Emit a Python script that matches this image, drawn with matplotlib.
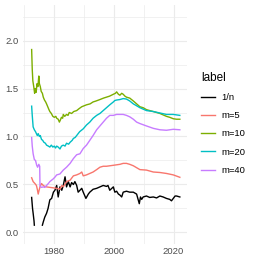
import numpy as np
import matplotlib
matplotlib.use("Agg")
import matplotlib.pyplot as plt
from matplotlib.ticker import MultipleLocator

plt.rcParams['font.family'] = ['Liberation Sans', 'DejaVu Sans']

# ---- data ----
labels = ["1/n", "m=5", "m=10", "m=20", "m=40"]
colors = ["#000000", "#F8766D", "#7CAE00", "#00BFC4", "#C77CFF"]

x_inv = [1972.4, 1972.7, 1972.9, 1973.2, 1973.3, 1974.5, 1976.0, 1976.3, 1976.8, 1977.4,
         1977.9, 1978.5, 1979.1, 1979.7, 1980.2, 1980.8, 1981.3, 1981.9, 1982.5, 1983.0,
         1983.6, 1984.1, 1984.7, 1985.3, 1985.8, 1986.4, 1986.9, 1987.5, 1988.0, 1988.6,
         1989.2, 1989.7, 1990.6, 1991.4, 1991.9, 1993.0, 1994.2, 1995.3, 1996.4, 1997.5,
         1998.0, 1998.6, 1999.8, 2000.3, 2000.9, 2001.5, 2002.0, 2002.6, 2003.1, 2004.2,
         2005.3, 2006.5, 2007.6, 2008.5, 2008.9, 2009.3, 2009.8, 2010.9, 2012.0, 2013.2,
         2014.3, 2015.4, 2016.5, 2017.6, 2018.7, 2019.3, 2019.9, 2020.5, 2021.0, 2022.1]
y_inv = [0.365, 0.25, 0.20, 0.12, 0.076, np.nan, 0.076, 0.11, 0.16, 0.20,
         0.25, 0.34, 0.355, 0.42, 0.44, 0.49, 0.37, 0.475, 0.44, 0.49,
         0.58, 0.475, 0.53, 0.475, 0.52, 0.50, 0.53, 0.49, 0.42, 0.44,
         0.46, 0.42, 0.355, 0.40, 0.42, 0.45, 0.46, 0.475, 0.49, 0.48,
         0.49, 0.44, 0.475, 0.42, 0.43, 0.40, 0.39, 0.37, 0.42, 0.43,
         0.42, 0.42, 0.40, 0.30, 0.37, 0.345, 0.37, 0.38, 0.365, 0.37,
         0.36, 0.38, 0.37, 0.355, 0.345, 0.33, 0.355, 0.38, 0.38, 0.37]

x_m5 = [1972.4, 1972.9, 1973.5, 1974.0, 1974.3, 1974.6, 1974.9, 1975.2, 1975.7, 1976.3,
        1976.8, 1977.4, 1978.5, 1979.7, 1980.8, 1981.9, 1982.5, 1983.0, 1984.1, 1985.3,
        1986.4, 1987.5, 1988.6, 1989.2, 1989.7, 1990.8, 1991.9, 1993.0, 1994.2, 1995.3,
        1996.4, 1997.5, 1999.8, 2002.0, 2003.1, 2004.2, 2005.3, 2006.5, 2007.6, 2008.7,
        2010.9, 2013.2, 2015.4, 2017.6, 2019.9, 2022.1]
y_m5 = [0.57, 0.53, 0.51, 0.49, 0.45, 0.40, 0.44, 0.475, 0.51, 0.49,
        0.48, 0.475, 0.47, 0.465, 0.46, 0.45, 0.49, 0.475, 0.53, 0.545,
        0.59, 0.60, 0.615, 0.63, 0.59, 0.60, 0.615, 0.63, 0.655, 0.68,
        0.69, 0.69, 0.70, 0.71, 0.72, 0.72, 0.71, 0.695, 0.675, 0.655,
        0.65, 0.63, 0.625, 0.615, 0.60, 0.575]

x_m10 = [1972.4, 1972.6, 1972.8, 1973.1, 1973.4, 1973.6, 1973.9, 1974.2, 1974.5, 1974.8,
         1975.0, 1975.3, 1975.6, 1976.0, 1976.3, 1976.7, 1977.1, 1977.4, 1977.8, 1978.2,
         1978.5, 1979.0, 1979.5, 1980.0, 1980.5, 1980.8, 1981.3, 1981.7, 1982.0, 1982.4,
         1982.8, 1983.0, 1983.5, 1984.1, 1984.6, 1985.0, 1985.8, 1986.5, 1987.5, 1988.3,
         1989.2, 1990.0, 1990.8, 1992.0, 1993.0, 1994.0, 1995.3, 1996.5, 1997.5, 1998.5,
         1999.8, 2000.5, 2000.9, 2001.5, 2002.0, 2002.6, 2003.1, 2003.7, 2004.2, 2005.3,
         2006.5, 2007.6, 2008.7, 2009.8, 2010.9, 2012.0, 2013.2, 2014.3, 2015.4, 2016.5,
         2017.6, 2018.7, 2019.9, 2021.0, 2022.1]
y_m10 = [1.906, 1.70, 1.58, 1.52, 1.45, 1.50, 1.46, 1.55, 1.52, 1.63,
         1.55, 1.52, 1.47, 1.45, 1.41, 1.38, 1.36, 1.34, 1.31, 1.28,
         1.26, 1.24, 1.21, 1.20, 1.21, 1.19, 1.18, 1.15, 1.17, 1.20,
         1.19, 1.23, 1.21, 1.23, 1.22, 1.25, 1.24, 1.26, 1.27, 1.29,
         1.31, 1.32, 1.33, 1.34, 1.36, 1.37, 1.385, 1.40, 1.41, 1.42,
         1.44, 1.45, 1.465, 1.44, 1.43, 1.45, 1.44, 1.42, 1.41, 1.40,
         1.37, 1.34, 1.31, 1.30, 1.28, 1.27, 1.26, 1.25, 1.24, 1.225,
         1.21, 1.20, 1.185, 1.18, 1.18]

x_m20 = [1972.4, 1972.6, 1972.9, 1973.3, 1973.7, 1974.0, 1974.3, 1974.6, 1975.0, 1975.3,
         1975.7, 1976.1, 1976.5, 1977.0, 1977.4, 1978.0, 1978.5, 1979.0, 1979.5, 1980.0,
         1980.4, 1980.8, 1981.3, 1981.9, 1982.4, 1983.0, 1983.6, 1984.1, 1984.8, 1985.3,
         1986.0, 1986.4, 1987.0, 1987.5, 1988.5, 1989.7, 1990.8, 1991.9, 1993.0, 1994.2,
         1995.3, 1996.4, 1997.5, 1998.6, 1999.8, 2000.3, 2000.9, 2002.0, 2003.1, 2004.2,
         2005.3, 2006.5, 2007.6, 2008.7, 2010.9, 2013.2, 2015.4, 2017.6, 2019.9, 2022.1]
y_m20 = [1.316, 1.22, 1.10, 1.07, 1.05, 1.03, 1.01, 1.03, 1.00, 1.01,
         0.97, 0.96, 0.94, 0.93, 0.91, 0.90, 0.89, 0.91, 0.89, 0.90,
         0.88, 0.90, 0.89, 0.87, 0.90, 0.91, 0.90, 0.93, 0.92, 0.94,
         0.96, 0.98, 0.99, 1.01, 1.05, 1.08, 1.12, 1.15, 1.19, 1.22,
         1.24, 1.27, 1.30, 1.33, 1.36, 1.375, 1.38, 1.385, 1.395, 1.39,
         1.37, 1.34, 1.32, 1.30, 1.27, 1.26, 1.245, 1.23, 1.23, 1.22]

x_m40 = [1972.4, 1972.6, 1972.9, 1973.3, 1973.7, 1974.1, 1974.4, 1974.8, 1975.1, 1975.2,
         1975.7, 1976.3, 1976.8, 1977.4, 1978.0, 1978.5, 1979.1, 1979.7, 1980.3, 1980.8,
         1981.4, 1981.9, 1983.0, 1984.1, 1985.3, 1986.4, 1987.5, 1988.6, 1989.7, 1990.8,
         1991.9, 1993.0, 1994.2, 1995.3, 1996.4, 1997.5, 1998.6, 1999.8, 2000.9, 2002.0,
         2003.1, 2004.2, 2005.3, 2006.5, 2007.6, 2008.7, 2010.9, 2013.2, 2015.4, 2017.6,
         2019.9, 2022.1]
y_m40 = [0.99, 0.90, 0.82, 0.76, 0.75, 0.70, 0.68, 0.71, 0.69, 0.48,
         0.47, 0.475, 0.47, 0.49, 0.51, 0.53, 0.545, 0.56, 0.58, 0.60,
         0.605, 0.61, 0.65, 0.68, 0.72, 0.77, 0.81, 0.82, 0.875, 0.91,
         0.96, 1.01, 1.07, 1.11, 1.15, 1.19, 1.22, 1.22, 1.23, 1.23,
         1.23, 1.22, 1.205, 1.18, 1.15, 1.135, 1.11, 1.085, 1.07, 1.065,
         1.075, 1.07]

series_x = [x_inv, x_m5, x_m10, x_m20, x_m40]
series_y = [y_inv, y_m5, y_m10, y_m20, y_m40]

# ---- figure ----
W = 263
fig = plt.figure(figsize=(2.63, 2.63), dpi=100)
ax = fig.add_axes([23 / W, 19 / W, (187 - 23) / W, (244 - 5) / W])

for xs, ys, lab, c in zip(series_x, series_y, labels, colors):
    ax.plot(xs, ys, color=c, lw=1.0, label=lab, solid_joinstyle='round')

ax.set_xlim(1969.5, 2024.5)
ax.set_ylim(-0.12, 2.37)
ax.xaxis.set_major_locator(MultipleLocator(20))
ax.xaxis.set_minor_locator(MultipleLocator(10))
ax.yaxis.set_major_locator(MultipleLocator(0.5))
ax.yaxis.set_minor_locator(MultipleLocator(0.25))
ax.yaxis.set_major_formatter(matplotlib.ticker.FormatStrFormatter('%.1f'))
ax.grid(True, which='major', color='#EBEBEB', lw=0.8)
ax.grid(True, which='minor', color='#EBEBEB', lw=0.5)
ax.set_axisbelow(True)
for s in ax.spines.values():
    s.set_visible(False)
ax.tick_params(which='both', length=0)
ax.tick_params(axis='y', pad=3, labelsize=6.8, labelcolor='#4D4D4D')
ax.tick_params(axis='x', pad=2.5, labelsize=6.8, labelcolor='#4D4D4D')

leg = fig.legend(loc='upper left', bbox_to_anchor=(201 / W, 1 - 72 / W),
                 frameon=False, title='label', alignment='left',
                 fontsize=6.8, title_fontsize=8.5, handlelength=1.5,
                 handletextpad=0.7, labelspacing=0.97, borderpad=0,
                 borderaxespad=0)
for line in leg.get_lines():
    line.set_linewidth(1.0)

fig.savefig('out.png', dpi=100)
